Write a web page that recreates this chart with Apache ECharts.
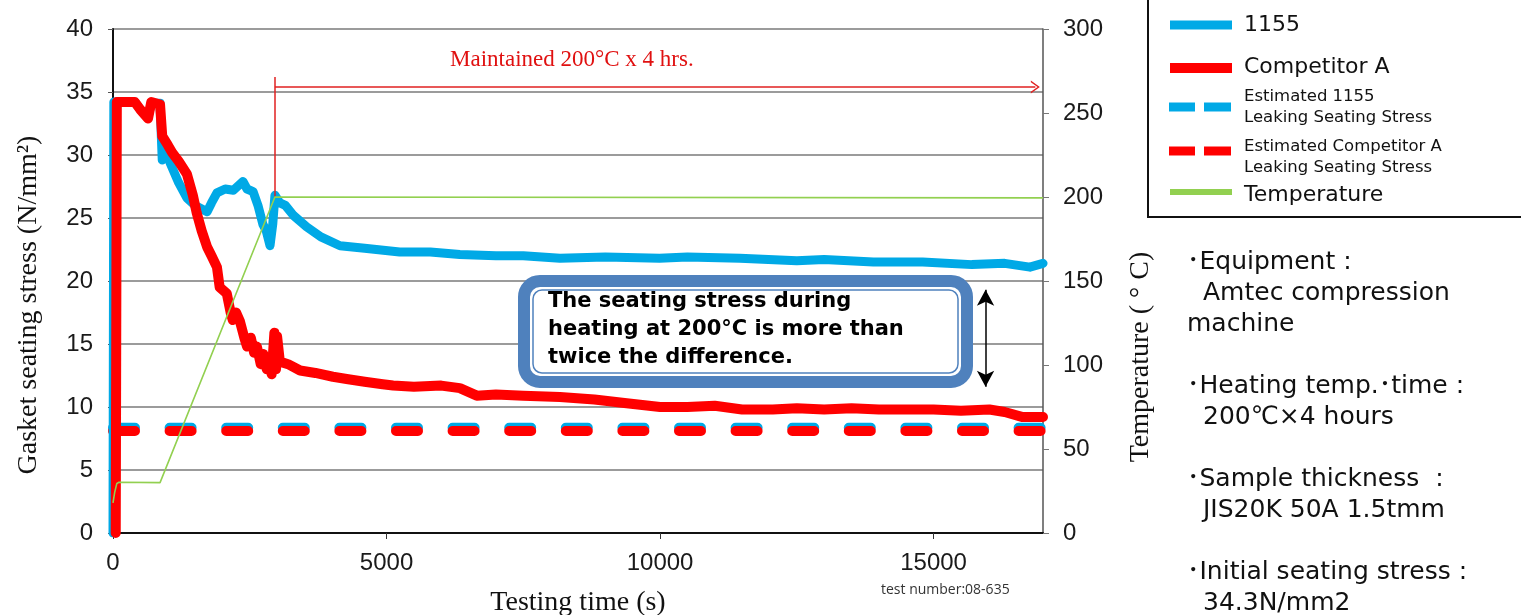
<!DOCTYPE html>
<html>
<head>
<meta charset="utf-8">
<script src="https://cdn.jsdelivr.net/npm/echarts@6/dist/echarts.min.js"></script>
<style>
  html, body { margin: 0; padding: 0; background: #fff; }
  #chart { width: 1521px; height: 615px; }
</style>
</head>
<body>
<div id="chart"></div>
<script>
// 1155 seating stress (time in s, stress in N/mm2)
var blueTime = [0, 15, 400, 500, 640, 700, 860, 900, 950, 1050, 1200, 1350, 1500, 1720, 1800, 1900, 2050, 2200, 2375, 2450, 2560, 2650, 2740, 2800, 2870, 2920, 2960, 3050, 3150, 3300, 3540, 3800, 4150, 4600, 5240, 5800, 6340, 7000, 7500, 8170, 9000, 9990, 10500, 11460, 12500, 13000, 13900, 14800, 15700, 16300, 16760, 17000];
var blueStress = [0, 34.2, 34.2, 33.6, 33.0, 34.1, 34.1, 29.6, 30.5, 29.3, 27.8, 26.6, 26.0, 25.5, 26.2, 27.0, 27.3, 27.2, 27.9, 27.3, 27.1, 26.0, 24.5, 24.0, 22.8, 24.5, 26.8, 26.2, 26.0, 25.2, 24.3, 23.5, 22.8, 22.6, 22.3, 22.3, 22.1, 22.0, 22.0, 21.8, 21.9, 21.8, 21.9, 21.8, 21.6, 21.7, 21.5, 21.5, 21.3, 21.4, 21.1, 21.4];

// Competitor A seating stress
var redTime = [50, 70, 400, 500, 640, 700, 860, 900, 1000, 1080, 1200, 1350, 1460, 1530, 1620, 1720, 1800, 1900, 1950, 2080, 2150, 2190, 2250, 2320, 2400, 2450, 2520, 2580, 2630, 2700, 2750, 2810, 2870, 2900, 2950, 2980, 3000, 3050, 3200, 3420, 3700, 4020, 4300, 4600, 4930, 5120, 5500, 6000, 6340, 6650, 7000, 7500, 8170, 8800, 9390, 10000, 10500, 11000, 11500, 12060, 12500, 13000, 13500, 14000, 14500, 15000, 15500, 16020, 16300, 16630, 17000];
var redStress = [0, 34.2, 34.2, 33.6, 32.9, 34.2, 34.0, 31.5, 30.8, 30.2, 29.5, 28.5, 26.8, 25.4, 24.0, 22.7, 22.0, 21.1, 19.5, 19.0, 17.5, 16.9, 17.5, 16.8, 15.5, 14.8, 15.5, 14.3, 14.8, 13.4, 14.2, 13.0, 13.2, 12.6, 15.9, 13.0, 15.6, 13.6, 13.4, 12.9, 12.7, 12.4, 12.2, 12.0, 11.8, 11.7, 11.6, 11.7, 11.5, 10.9, 11.0, 10.9, 10.8, 10.6, 10.3, 10.0, 10.0, 10.1, 9.8, 9.8, 9.9, 9.8, 9.9, 9.8, 9.8, 9.8, 9.7, 9.8, 9.6, 9.2, 9.2];

// temperature (right axis, deg C)
var tempTime = [0, 30, 70, 110, 860, 2960, 17000];
var tempValue = [18, 24, 29.5, 30.2, 30, 200, 199.5];

// estimated leaking seating stress
var leakTime = [0, 17000];
var leak1155 = [8.35, 8.35];
var leakCompA = [8.1, 8.1];

var BLUE = '#00a9e6', RED = '#ff0000', GREEN = '#92d050', FRAME = '#4f81bd';
var SERIF = '"Liberation Serif", "DejaVu Serif", serif';
var SANS = '"Liberation Sans", Arial, sans-serif';
var GOTHIC = '"DejaVu Sans", "Noto Sans CJK JP", sans-serif';

function pairs(xs, ys) {
  return xs.map(function (x, i) { return [x, ys[i]]; });
}

var chevron = 'path://M0,10 L5,0 L10,10 L8.6,10 L5,2.6 L1.4,10 Z';

var chartDom = document.getElementById('chart');
var myChart = echarts.init(chartDom);

var legendItems = [
  { y: 25, ty: 25, color: BLUE, h: 9, dash: false, lines: ['1155'], size: 22 },
  { y: 68, ty: 67, color: RED, h: 10, dash: false, lines: ['Competitor A'], size: 22 },
  { y: 107, ty: 107, color: BLUE, h: 9, dash: true, lines: ['Estimated 1155', 'Leaking Seating Stress'], size: 16.5 },
  { y: 151, ty: 157, color: RED, h: 9, dash: true, lines: ['Estimated Competitor A', 'Leaking Seating Stress'], size: 16.5 },
  { y: 192, ty: 195, color: GREEN, h: 6, dash: false, lines: ['Temperature'], size: 22 }
];

var graphics = [
  { type: 'rect', z: 100, shape: { x: 1148, y: -10, width: 400, height: 227 },
    style: { fill: '#fff', stroke: '#111', lineWidth: 2 } }
];
legendItems.forEach(function (it) {
  if (it.dash) {
    graphics.push({ type: 'rect', z: 101, shape: { x: 1169, y: it.y - it.h / 2, width: 26, height: it.h }, style: { fill: it.color } });
    graphics.push({ type: 'rect', z: 101, shape: { x: 1204, y: it.y - it.h / 2, width: 27, height: it.h }, style: { fill: it.color } });
  } else {
    graphics.push({ type: 'rect', z: 101, shape: { x: 1170, y: it.y - it.h / 2, width: 62, height: it.h }, style: { fill: it.color } });
  }
  graphics.push({
    type: 'text', z: 101, x: 1244, y: it.ty,
    style: { text: it.lines.join('\n'), font: it.size + 'px ' + GOTHIC, fill: '#111',
      verticalAlign: 'middle', align: 'left', lineHeight: it.lines.length > 1 ? 20.5 : 24 }
  });
});

// notes on the right
var notes = [
  ['\uFF65Equipment :', 1187, 262],
  ['Amtec compression', 1203, 293],
  ['machine', 1187, 324],
  ['\uFF65Heating temp.\uFF65time :', 1187, 386],
  ['200\u2103\u00D74 hours', 1203, 417],
  ['\uFF65Sample thickness  :', 1187, 479],
  ['JIS20K 50A 1.5tmm', 1203, 510],
  ['\uFF65Initial seating stress :', 1187, 572],
  ['34.3N/mm2', 1203, 603]
];
notes.forEach(function (n) {
  graphics.push({ type: 'text', z: 100, x: n[1], y: n[2],
    style: { text: n[0], font: '25px ' + GOTHIC, fill: '#111', verticalAlign: 'middle' } });
});

// rounded comment box
graphics.push({ type: 'rect', z: 100, shape: { x: 524, y: 281, width: 443, height: 101, r: 16 },
  style: { fill: '#fff', stroke: FRAME, lineWidth: 12 } });
graphics.push({ type: 'rect', z: 101, shape: { x: 533, y: 290, width: 425, height: 83, r: 9 },
  style: { fill: 'none', stroke: FRAME, lineWidth: 1.5 } });
graphics.push({ type: 'text', z: 102, x: 548, y: 330,
  style: { text: 'The seating stress during\nheating at 200\u00B0C is more than\ntwice the difference.',
    font: 'bold 21px "DejaVu Sans", sans-serif', fill: '#000', verticalAlign: 'middle', lineHeight: 28 } });

graphics.push({ type: 'text', z: 100, x: 450, y: 60,
  style: { text: 'Maintained 200\u00B0C x 4 hrs.', font: '23px ' + SERIF, fill: '#e01010', verticalAlign: 'middle' } });
graphics.push({ type: 'text', z: 100, x: 881, y: 590,
  style: { text: 'test number:08-635', font: '14px "Open Sans", sans-serif', fill: '#333', verticalAlign: 'middle' } });

var arrowRed = { color: '#e02020', width: 1.5, type: 'solid' };
var arrowBlack = { color: '#000', width: 1.5, type: 'solid' };

var option = {
  animation: false,
  grid: { left: 113, top: 29, width: 930, height: 504, containLabel: false, outerBoundsMode: 'none' },
  xAxis: {
    type: 'value', min: 0, max: 17000, interval: 5000,
    name: 'Testing time (s)', nameLocation: 'middle', nameGap: 56,
    nameTextStyle: { fontFamily: SERIF, fontSize: 28, color: '#111' },
    axisLine: { lineStyle: { color: '#111', width: 2 } },
    axisTick: { show: true, length: 6, lineStyle: { color: '#333' } },
    axisLabel: { fontFamily: SANS, fontSize: 24, color: '#1a1a1a', margin: 18, showMaxLabel: false,
      formatter: function (v) { return String(v); } },
    splitLine: { show: false }
  },
  yAxis: [
    {
      type: 'value', min: 0, max: 40, interval: 5,
      name: 'Gasket seating stress (N/mm\u00B2)', nameLocation: 'middle', nameGap: 70, nameRotate: 90,
      nameTextStyle: { fontFamily: SERIF, fontSize: 28, color: '#111', padding: [0, 48, 0, 0] },
      axisLine: { show: true, lineStyle: { color: '#111', width: 2 } },
      axisTick: { show: true, length: 5, lineStyle: { color: '#555' } },
      axisLabel: { fontFamily: SANS, fontSize: 24, color: '#1a1a1a', margin: 20 },
      splitLine: { show: true, lineStyle: { color: '#7a7a7a', width: 1.5 } }
    },
    {
      type: 'value', min: 0, max: 300, interval: 50, position: 'right',
      name: 'Temperature ( \u00B0 C)', nameLocation: 'middle', nameGap: 84, nameRotate: 90,
      nameTextStyle: { fontFamily: SERIF, fontSize: 28, color: '#111', padding: [0, 152, 0, 0] },
      axisLine: { show: true, lineStyle: { color: '#555', width: 1.5 } },
      axisTick: { show: true, length: 6, lineStyle: { color: '#777' } },
      axisLabel: { fontFamily: SANS, fontSize: 24, color: '#1a1a1a', margin: 20 },
      splitLine: { show: false }
    }
  ],
  graphic: graphics,
  series: [
    {
      name: 'Estimated 1155 Leaking Seating Stress', type: 'line', yAxisIndex: 0,
      data: pairs(leakTime, leak1155), showSymbol: false, silent: true, z: 2,
      lineStyle: { color: BLUE, width: 10, type: [22, 34.6], cap: 'round' }
    },
    {
      name: 'Estimated Competitor A Leaking Seating Stress', type: 'line', yAxisIndex: 0,
      data: pairs(leakTime, leakCompA), showSymbol: false, silent: true, z: 3,
      lineStyle: { color: RED, width: 10, type: [22, 34.6], cap: 'round' }
    },
    {
      name: '1155', type: 'line', yAxisIndex: 0,
      data: pairs(blueTime, blueStress), showSymbol: false, z: 4,
      lineStyle: { color: BLUE, width: 9, join: 'round', cap: 'round' },
      markLine: {
        silent: true, animation: false, symbol: ['none', 'none'],
        label: { show: false },
        data: [
          [{ coord: [2960, 36.2], lineStyle: arrowRed }, { coord: [2960, 26.7], lineStyle: arrowRed }],
          [{ coord: [2960, 35.4], lineStyle: arrowRed },
           { coord: [16860, 35.4], lineStyle: arrowRed, symbol: chevron, symbolSize: [13, 9] }],
          [{ coord: [15950, 19.3], lineStyle: arrowBlack, symbol: 'arrow', symbolSize: [13, 16] },
           { coord: [15950, 11.6], lineStyle: arrowBlack, symbol: 'arrow', symbolSize: [13, 16] }]
        ]
      }
    },
    {
      name: 'Competitor A', type: 'line', yAxisIndex: 0,
      data: pairs(redTime, redStress), showSymbol: false, z: 5,
      lineStyle: { color: RED, width: 10, join: 'round', cap: 'round' }
    },
    {
      name: 'Temperature', type: 'line', yAxisIndex: 1,
      data: pairs(tempTime, tempValue), showSymbol: false, z: 6,
      lineStyle: { color: GREEN, width: 1.6 }
    }
  ]
};

option && myChart.setOption(option);
</script>
</body>
</html>
